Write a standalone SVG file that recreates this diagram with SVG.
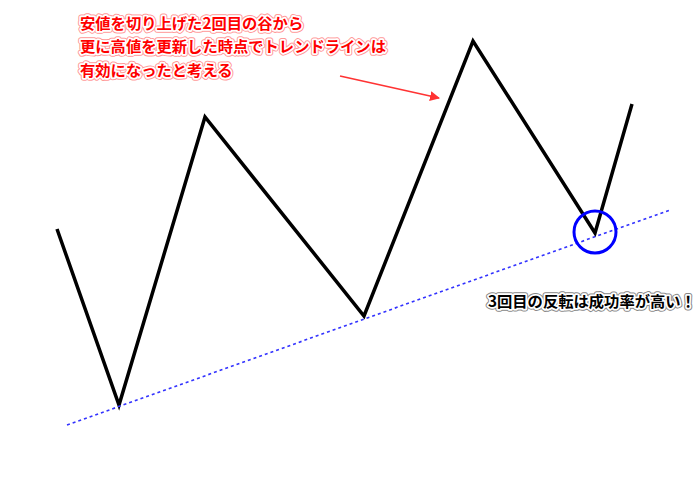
<svg xmlns="http://www.w3.org/2000/svg" width="700" height="480" viewBox="0 0 700 480">
<defs>
<style>
.t{font-family:"Noto Sans CJK JP","Noto Sans CJK SC",sans-serif;font-size:15.3px;font-weight:bold;paint-order:stroke;stroke-linejoin:round}
.red{fill:#ff0000;stroke:#fff;stroke-width:3.5}
.redh{fill:none;stroke:#ff9999;stroke-width:5.5}
.blk{fill:#000;stroke:#fff;stroke-width:3.5}
.blkh{fill:none;stroke:#888;stroke-width:5.5}
</style>
<marker id="ah" viewBox="0 0 10 10" refX="9" refY="5" markerWidth="10" markerHeight="10" markerUnits="userSpaceOnUse" orient="auto">
<path d="M0,0 L10,5 L0,10 Z" fill="#ff3333"/>
</marker>
</defs>
<rect width="700" height="480" fill="#fff"/>
<g id="connectors">
<polyline id="price" points="57,229 119,405 205,117 364,316 473,41 595,233 632,104" fill="none" stroke="#000" stroke-width="3.5" stroke-linejoin="miter"/>
<line id="trendline" x1="67" y1="425" x2="670" y2="210" stroke="#3333ff" stroke-width="1.6" stroke-dasharray="3,3"/>
<line id="arrow" x1="340" y1="76" x2="439" y2="98" stroke="#ff3333" stroke-width="1.5" marker-end="url(#ah)"/>
</g>
<g id="circle"><circle cx="595" cy="232" r="21" fill="none" stroke="#0000ff" stroke-width="3"/></g>
<g id="note1">
<text class="t redh" x="80" y="29">安値を切り上げた2回目の谷から</text>
<text class="t redh" x="80" y="52">更に高値を更新した時点でトレンドラインは</text>
<text class="t redh" x="80" y="76">有効になったと考える</text>
<text class="t red" x="80" y="29">安値を切り上げた2回目の谷から</text>
<text class="t red" x="80" y="52">更に高値を更新した時点でトレンドラインは</text>
<text class="t red" x="80" y="76">有効になったと考える</text>
</g>
<g id="note2">
<text class="t blkh" x="488" y="307">3回目の反転は成功率が高い！</text>
<text class="t blk" x="488" y="307">3回目の反転は成功率が高い！</text>
</g>
</svg>
